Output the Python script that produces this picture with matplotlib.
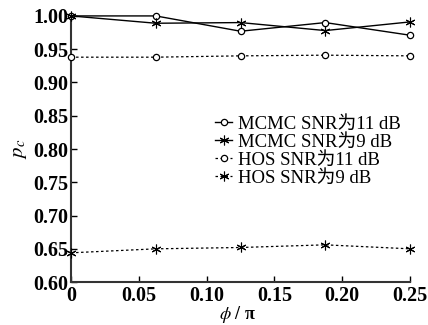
import matplotlib.pyplot as plt

plt.rcParams['font.family'] = ['Liberation Serif', 'Noto Sans CJK SC']
plt.rcParams['mathtext.fontset'] = 'stix'

phi = [0, 0.0625, 0.125, 0.1875, 0.25]
mcmc_11 = [1.000, 1.000, 0.977, 0.990, 0.971]
mcmc_9 = [1.000, 0.989, 0.990, 0.978, 0.991]
hos_11 = [0.938, 0.938, 0.940, 0.941, 0.940]
hos_9 = [0.644, 0.650, 0.652, 0.656, 0.650]

xticks = [0, 0.05, 0.10, 0.15, 0.20, 0.25]
xtick_labels = ['0', '0.05', '0.10', '0.15', '0.20', '0.25']
yticks = [0.60, 0.65, 0.70, 0.75, 0.80, 0.85, 0.90, 0.95, 1.00]

fig = plt.figure(figsize=(4.28, 3.25), dpi=100)
ax = fig.add_axes([0.166, 0.132, 0.792, 0.819])

star = (6, 2, 0)
ax.plot(phi, mcmc_11, color='black', lw=1, marker='o', ms=4.5, mfc='white',
        mew=0.9, label='MCMC SNR为11 dB', clip_on=False, zorder=3)
ax.plot(phi, mcmc_9, color='black', lw=1, marker=star, ms=7,
        mew=0.8, label='MCMC SNR为9 dB', clip_on=False, zorder=3)
ax.plot(phi, hos_11, color='black', lw=0.9, ls=(0, (2, 2)), marker='o', ms=4.5,
        mfc='white', mew=0.9, label='HOS SNR为11 dB', clip_on=False, zorder=3)
ax.plot(phi, hos_9, color='black', lw=0.9, ls=(0, (2, 2)), marker=star, ms=7,
        mew=0.8, label='HOS SNR为9 dB', clip_on=False, zorder=3)

ax.set_xlim(0, 0.25)
ax.set_ylim(0.60, 1.00)
ax.set_xticks(xticks)
ax.set_xticklabels(xtick_labels)
ax.set_yticks(yticks)
ax.set_yticklabels(['%.2f' % v for v in yticks])

for side in ['top', 'right']:
    ax.spines[side].set_visible(False)
for side in ['left', 'bottom']:
    ax.spines[side].set_linewidth(1.5)
    ax.spines[side].set_color('#333333')

ax.tick_params(direction='in', length=4, width=1, labelsize=14.5)
ax.tick_params(axis='y', pad=2)
ax.tick_params(axis='x', pad=3)
for lbl in ax.get_xticklabels() + ax.get_yticklabels():
    lbl.set_fontweight('bold')

ax.set_ylabel(r'$\mathit{p}_{\mathit{c}}$', fontsize=15, labelpad=3)
ax.set_xlabel(r'$\mathit{\phi}$ / π', fontsize=13, fontweight='bold')
ax.xaxis.set_label_coords(0.49, -0.083)

ax.legend(loc='upper left', bbox_to_anchor=(0.425, 0.625), frameon=False,
          fontsize=13.5, handlelength=0.9, handletextpad=0.3, labelspacing=0.05,
          borderpad=0, borderaxespad=0)

fig.savefig('out.png', dpi=100)
